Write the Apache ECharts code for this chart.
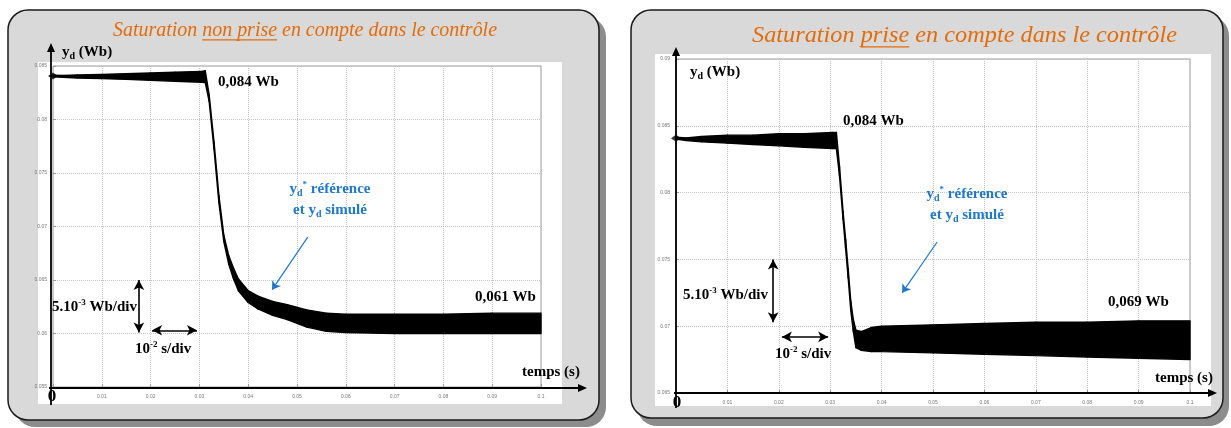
<!DOCTYPE html>
<html><head><meta charset="utf-8">
<script src="https://cdn.jsdelivr.net/npm/echarts@6/dist/echarts.min.js"></script>
<style>html,body{margin:0;padding:0;background:#fff}#c{width:1231px;height:428px}</style>
</head><body><div id="c"></div>
<script>
// ---------- data ----------
const timeL  = [0, 0.002, 0.005, 0.01, 0.015, 0.02, 0.025, 0.0305, 0.0312, 0.032, 0.033, 0.034, 0.035, 0.036, 0.037, 0.038, 0.04, 0.042, 0.045, 0.048, 0.052, 0.056, 0.06, 0.07, 0.08, 0.09, 0.1];
const upperL = [0.08415, 0.08412, 0.08416, 0.08422, 0.08428, 0.08435, 0.08442, 0.08450, 0.08455, 0.0823, 0.0779, 0.0729, 0.0692, 0.0673, 0.0661, 0.0651, 0.0640, 0.0635, 0.0630, 0.0627, 0.0622, 0.0619, 0.0618, 0.0618, 0.0618, 0.0619, 0.0619];
const lowerL = [0.08400, 0.08394, 0.08388, 0.08382, 0.08375, 0.08366, 0.08357, 0.08348, 0.08345, 0.0817, 0.0772, 0.0722, 0.0686, 0.0665, 0.0651, 0.0640, 0.0629, 0.0623, 0.0617, 0.0613, 0.0606, 0.0602, 0.0601, 0.0600, 0.0600, 0.0600, 0.0600];

const timeR  = [0, 0.002, 0.005, 0.01, 0.015, 0.02, 0.025, 0.0305, 0.0312, 0.0318, 0.0325, 0.033, 0.0335, 0.034, 0.0345, 0.035, 0.036, 0.038, 0.04, 0.05, 0.06, 0.07, 0.08, 0.09, 0.1];
const upperR = [0.08415, 0.0841, 0.0842, 0.0843, 0.0843, 0.0844, 0.0844, 0.0845, 0.0845, 0.0820, 0.0786, 0.0765, 0.0743, 0.0719, 0.0705, 0.0697, 0.0696, 0.0699, 0.0700, 0.0701, 0.0702, 0.0703, 0.0703, 0.0704, 0.0704];
const lowerR = [0.08400, 0.0839, 0.0838, 0.0837, 0.0836, 0.0835, 0.0834, 0.0833, 0.0833, 0.0813, 0.0780, 0.0758, 0.0736, 0.0712, 0.0696, 0.0684, 0.0682, 0.0681, 0.0681, 0.0680, 0.0679, 0.0678, 0.0677, 0.0676, 0.0675];

const xRange = [0, 0.1], xStep = 0.01;
const yRangeL = [0.055, 0.085], yRangeR = [0.065, 0.09], yStep = 0.005;

const titles = ['Saturation ', 'non prise', ' en compte dans le contrôle'];
const titlesR = ['Saturation ', 'prise', ' en compte dans le contrôle'];
const levelLabelsL = ['0,084 Wb', '0,061 Wb'];
const levelLabelsR = ['0,084 Wb', '0,069 Wb'];

// scale-indicator arrows & pointer arrows (data coords)
const scaleArrowsL = { v: [[0.0176, 0.065], [0.0176, 0.0601]], h: [[0.0203, 0.0603], [0.0295, 0.0603]], p: [[0.0522, 0.0690], [0.0449, 0.0641]] };
const scaleArrowsR = { v: [[0.0189, 0.075], [0.0189, 0.0703]], h: [[0.0206, 0.0692], [0.0296, 0.0692]], p: [[0.0508, 0.0763], [0.0440, 0.0725]] };

// ---------- layout ----------
const gridL = { left: 53, top: 66, width: 488, height: 321 };
const gridR = { left: 676, top: 59, width: 514, height: 334 };
const SERIF = '"Liberation Serif","DejaVu Serif",serif';
const ORANGE = '#e36c0a', BLUE = '#1f78c8';

const chart = echarts.init(document.getElementById('c'), null, { renderer: 'canvas' });

// band segments: [t_i, lo_i, up_i, t_i+1, lo_i+1, up_i+1]
function segs(t, up, lo) {
  const out = [];
  for (let i = 0; i < t.length - 1; i++) out.push([t[i], lo[i], up[i], t[i + 1], lo[i + 1], up[i + 1]]);
  return out;
}
function bandSeries(idx, t, up, lo) {
  return [
    { type: 'custom', xAxisIndex: idx, yAxisIndex: idx, z: 3, silent: true, data: segs(t, up, lo),
      renderItem: function (params, api) {
        const a = api.coord([api.value(0), api.value(2)]);
        const b = api.coord([api.value(3), api.value(5)]);
        const c = api.coord([api.value(3), api.value(4)]);
        const d = api.coord([api.value(0), api.value(1)]);
        return { type: 'polygon', shape: { points: [a, b, c, d] }, style: { fill: '#000', stroke: '#000', lineWidth: 1.4, lineJoin: 'round' } };
      } },
    { type: 'scatter', xAxisIndex: idx, yAxisIndex: idx, z: 4, silent: true, symbol: 'diamond', symbolSize: [10, 7],
      itemStyle: { color: '#000' }, data: [[t[0], (up[0] + lo[0]) / 2]] }
  ];
}
function arrowSeries(idx, a) {
  const ls = { color: '#000', width: 1.6, type: 'solid' };
  return { type: 'line', xAxisIndex: idx, yAxisIndex: idx, data: [], z: 5,
    markLine: { silent: true, animation: false, symbol: ['arrow', 'arrow'], symbolSize: [8, 10], label: { show: false },
      data: [
        [{ coord: a.v[0], lineStyle: ls }, { coord: a.v[1] }],
        [{ coord: a.h[0], lineStyle: ls }, { coord: a.h[1] }],
        [{ coord: a.p[0], symbol: 'none', lineStyle: { color: BLUE, width: 1.2, type: 'solid' } }, { coord: a.p[1], symbol: 'arrow', symbolSize: 8 }]
      ] } };
}
function xAxis(idx) {
  return { type: 'value', gridIndex: idx, min: xRange[0], max: xRange[1], interval: xStep,
    axisLine: { show: false }, axisTick: { show: true, inside: true, length: 3, lineStyle: { color: '#999' } },
    axisLabel: { fontSize: 5, color: '#777', margin: 7, formatter: v => v === 0 ? '' : String(+v.toFixed(2)) },
    splitLine: { show: true, lineStyle: { color: '#c4c4c4', type: 'dotted', width: 1 } } };
}
function yAxis(idx, r) {
  return { type: 'value', gridIndex: idx, min: r[0], max: r[1], interval: yStep,
    axisLine: { show: false }, axisTick: { show: true, inside: true, length: 3, lineStyle: { color: '#999' } },
    axisLabel: { fontSize: 5, color: '#777', margin: 6, formatter: v => String(+v.toFixed(3)) },
    splitLine: { show: true, lineStyle: { color: '#c4c4c4', type: 'dotted', width: 1 } } };
}

// text measuring for underline / width fitting
const mctx = document.createElement('canvas').getContext('2d');
function tw(txt, font) { mctx.font = font; return mctx.measureText(txt).width; }

function titleGraphic(parts, x0, targetW, cy, size) {
  const font = 'italic ' + size + 'px ' + SERIF;
  const w0 = tw(parts[0], font), w1 = tw(parts[1], font), wAll = tw(parts.join(''), font);
  const k = targetW / wAll;
  return [
    { type: 'text', z: 50, x: x0, y: cy, scaleX: k, style: { x: 0, y: 0, text: parts.join(''), font: font, fill: ORANGE, textVerticalAlign: 'middle' } },
    { type: 'line', z: 50, shape: { x1: x0 + w0 * k, y1: cy + size * 0.45, x2: x0 + (w0 + w1) * k, y2: cy + size * 0.45 }, style: { stroke: ORANGE, lineWidth: 1.2 } }
  ];
}
function arrowGraphic(x1, y1, x2, y2) {
  const ang = Math.atan2(y2 - y1, x2 - x1), L = 9, Wd = 4;
  const bx = x2 - L * Math.cos(ang), by = y2 - L * Math.sin(ang);
  const px = -Math.sin(ang) * Wd, py = Math.cos(ang) * Wd;
  return [
    { type: 'line', z: 40, shape: { x1, y1, x2: bx, y2: by }, style: { stroke: '#000', lineWidth: 1.8 } },
    { type: 'polygon', z: 40, shape: { points: [[x2, y2], [bx + px, by + py], [bx - px, by - py]] }, style: { fill: '#000' } }
  ];
}
const richY = {
  m: { fontFamily: SERIF, fontWeight: 'bold', fontSize: 15, lineHeight: 18, verticalAlign: 'middle' },
  s: { fontFamily: SERIF, fontWeight: 'bold', fontSize: 10, lineHeight: 12, verticalAlign: 'bottom' },
  u: { fontFamily: SERIF, fontWeight: 'bold', fontSize: 9, lineHeight: 18, verticalAlign: 'top' }
};
function rt(x, y, text, color, size, align) {
  const rich = JSON.parse(JSON.stringify(richY));
  Object.keys(rich).forEach(k => { rich[k].fill = color; });
  rich.m.fontSize = size;
  return { type: 'text', z: 60, style: { x, y, text, rich, fill: color, textAlign: align || 'left', textVerticalAlign: 'middle' } };
}
function bt(x, y, text, size, align) {
  return { type: 'text', z: 60, style: { x, y, text, font: 'bold ' + size + 'px ' + SERIF, fill: '#000', textAlign: align || 'left', textVerticalAlign: 'middle' } };
}

const graphics = [
  // panel shadows and boxes
  { type: 'rect', z: -20, shape: { x: 15, y: 17, width: 591, height: 410, r: 20 }, style: { fill: '#8c8c8c' } },
  { type: 'rect', z: -19, shape: { x: 8, y: 10, width: 591, height: 410, r: 20 }, style: { fill: '#d9d9d9', stroke: '#1a1a1a', lineWidth: 1.5 } },
  { type: 'rect', z: -18, shape: { x: 38, y: 62, width: 524, height: 342 }, style: { fill: '#fff' } },
  { type: 'rect', z: -20, shape: { x: 637, y: 16, width: 592, height: 410, r: 20 }, style: { fill: '#8c8c8c' } },
  { type: 'rect', z: -19, shape: { x: 631, y: 10, width: 592, height: 408, r: 20 }, style: { fill: '#d9d9d9', stroke: '#1a1a1a', lineWidth: 1.5 } },
  { type: 'rect', z: -18, shape: { x: 655, y: 54, width: 556, height: 352 }, style: { fill: '#fff' } },
  ...titleGraphic(titles, 113, 384, 30, 22),
  ...titleGraphic(titlesR, 752, 425, 36, 24),
  ...arrowGraphic(51, 405, 51, 43),
  ...arrowGraphic(49, 388, 587, 388),
  ...arrowGraphic(676, 408, 676, 47),
  ...arrowGraphic(674, 393, 1217, 393),
  rt(62, 52, '{m|y}{s|d}{m| (Wb)}', '#000', 15),
  rt(690, 72, '{m|y}{s|d}{m| (Wb)}', '#000', 15),
  bt(52, 397, '0', 17, 'center'),
  bt(677, 403, '0', 17, 'center'),
  bt(522, 372, 'temps (s)', 15),
  bt(1155, 378, 'temps (s)', 15),
  bt(218, 82, levelLabelsL[0], 15),
  bt(475, 297, levelLabelsL[1], 15),
  bt(843, 121, levelLabelsR[0], 15),
  bt(1108, 302, levelLabelsR[1], 15),
  rt(52, 307, '{m|5.10}{u|-3}{m| Wb/div}', '#000', 15),
  rt(683, 295, '{m|5.10}{u|-3}{m| Wb/div}', '#000', 15),
  rt(135, 349, '{m|10}{u|-2}{m| s/div}', '#000', 15),
  rt(775, 354, '{m|10}{u|-2}{m| s/div}', '#000', 15),
  rt(330, 189, '{m|y}{s|d}{u|*}{m| référence}', BLUE, 15, 'center'),
  rt(330, 210, '{m|et y}{s|d}{m| simulé}', BLUE, 15, 'center'),
  rt(967, 194, '{m|y}{s|d}{u|*}{m| référence}', BLUE, 15, 'center'),
  rt(967, 215, '{m|et y}{s|d}{m| simulé}', BLUE, 15, 'center')
];

chart.setOption({
  animation: false,
  backgroundColor: '#fff',
  grid: [
    Object.assign({ show: true, borderColor: '#9a9a9a', borderWidth: 1, backgroundColor: 'transparent' }, gridL),
    Object.assign({ show: true, borderColor: '#9a9a9a', borderWidth: 1, backgroundColor: 'transparent' }, gridR)
  ],
  xAxis: [xAxis(0), xAxis(1)],
  yAxis: [yAxis(0, yRangeL), yAxis(1, yRangeR)],
  series: [
    ...bandSeries(0, timeL, upperL, lowerL),
    ...bandSeries(1, timeR, upperR, lowerR),
    arrowSeries(0, scaleArrowsL),
    arrowSeries(1, scaleArrowsR)
  ],
  graphic: { elements: graphics }
});
</script></body></html>
